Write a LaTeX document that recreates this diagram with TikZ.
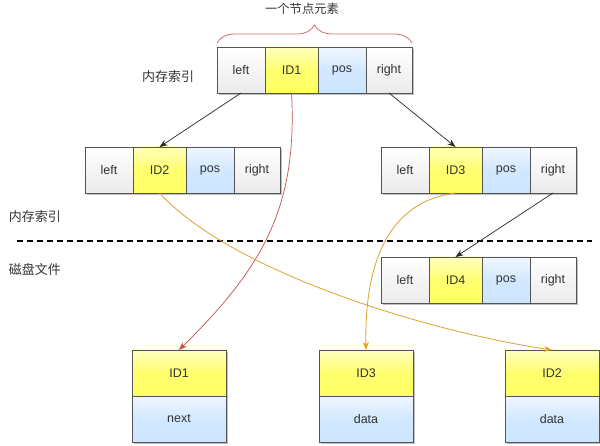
\documentclass[tikz,border=0pt]{standalone}
\usepackage{fontspec}
\setmainfont{Liberation Sans}
\newfontfamily\cjk{Noto Sans CJK SC}
\usetikzlibrary{arrows.meta,shadows,decorations.pathreplacing}
\definecolor{txt}{HTML}{333333}
\definecolor{edge}{HTML}{555555}
\definecolor{redl}{HTML}{C0504D}
\definecolor{oran}{HTML}{E0A030}
\definecolor{bracec}{HTML}{D07070}
\tikzset{
  cellbase/.style={draw=edge, line width=0.8pt, minimum height=46pt, inner sep=0pt, outer sep=0pt,
    text=txt, font=\fontsize{12.5}{14}\selectfont,
    drop shadow={shadow xshift=2pt, shadow yshift=-2pt, opacity=0.25, fill=black}},
  gcell/.style={cellbase, top color=white, bottom color=black!8, middle color=black!4},
  ycell/.style={cellbase, top color=yellow!25, bottom color={rgb,255:red,255;green,255;blue,100}, middle color={rgb,255:red,255;green,255;blue,110}},
  bcell/.style={cellbase, top color={rgb,255:red,240;green,247;blue,255}, bottom color={rgb,255:red,204;green,229;blue,255}, middle color={rgb,255:red,210;green,232;blue,255}},
  arr/.style={draw=black!85, line width=0.7pt, -{Stealth[length=8pt,width=6pt]}},
  redarr/.style={draw=redl, line width=0.7pt, -{Stealth[length=8pt,width=6pt]}},
  orarr/.style={draw=oran, line width=0.8pt, -{Stealth[length=8pt,width=6pt]}},
  lbl/.style={font=\cjk\fontsize{13}{15}\selectfont, text=txt, inner sep=0pt},
  celltxt/.style={text=txt, font=\fontsize{12.5}{14}\selectfont},
}
\newcommand{\cellrow}[4]{%
  \node[gcell, minimum width=48pt, anchor=north west] (#1l) at (#2,#3) {left};
  \node[ycell, minimum width=53pt, anchor=west] (#1i) at (#1l.east) {#4};
  \node[bcell, minimum width=48pt, anchor=west] (#1p) at (#1i.east) {pos};
  \node[gcell, minimum width=46pt, anchor=west] (#1r) at (#1p.east) {right};
}
\newcommand{\diskbox}[4]{%
  \node[ycell, minimum width=94pt, anchor=north west] (#1t) at (#2,#3) {#4};
  \node[bcell, minimum width=94pt, anchor=north] (#1b) at (#1t.south) {};
}
\begin{document}
\begin{tikzpicture}[x=1pt,y=-1pt]
\useasboundingbox (0,0) rectangle (600,446);
% title and brace
\node[lbl, font=\cjk\fontsize{12.3}{15}\selectfont] (title) at (302,9) {一个节点元素};
\coordinate (bl) at (217,43);
\coordinate (br) at (412,43);
\draw[bracec, line width=0.8pt, decorate, decoration={brace, amplitude=18pt}] (bl) -- (br);
% labels
\node[lbl] (mem1) at (168,77) {内存索引};
\node[lbl] (mem2) at (35,217) {内存索引};
\node[lbl] (disk) at (35,269) {磁盘文件};
% dashed separator
\coordinate (dl) at (17,241);
\coordinate (dr) at (592,241);
\draw[black, line width=1.3pt, dash pattern=on 6pt off 4pt] (dl) -- (dr);
% rows
\cellrow{a}{217}{47}{ID1}
\cellrow{b}{85}{147}{ID2}
\cellrow{c}{381}{147}{ID3}
\cellrow{d}{381}{257}{ID4}
% disk boxes
\diskbox{e}{132}{350}{ID1}
\node[celltxt] (eN) at (eb) {next};
\diskbox{f}{319}{350}{ID3}
\node[celltxt] (fN) at (fb) {data};
\diskbox{g}{505}{350}{ID2}
\node[celltxt] (gN) at (gb) {data};
% black arrows
\draw[arr] (al.south) -- (bi.north);
\draw[arr] (ar.south) -- (ci.north);
\draw[arr] (cr.south) -- (di.north);
% curved arrows
\draw[redarr] (ai.south) .. controls (298,210) and (260,270) .. (et.north);
\draw[orarr] (bi.south) .. controls (230,270) and (420,330) .. (gt.north);
\draw[orarr] (ci.south) .. controls (400,200) and (364,245) .. (ft.north);
\end{tikzpicture}
\end{document}
